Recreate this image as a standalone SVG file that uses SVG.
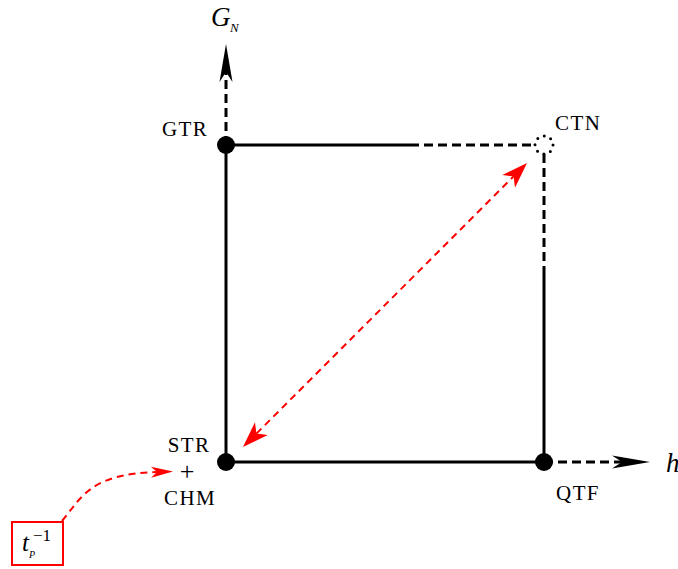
<svg xmlns="http://www.w3.org/2000/svg" width="678" height="569" viewBox="0 0 678 569">
<style>
.t{font-family:"Liberation Serif","DejaVu Serif",serif;fill:#000}
.lbl{font-size:21px;letter-spacing:1.4px}
.edge{stroke:#000;stroke-width:3;fill:none}
.dash{stroke:#000;stroke-width:3;fill:none;stroke-dasharray:9 5}
.rdash{stroke:#f00;stroke-width:2;fill:none;stroke-dasharray:7 5}
</style>
<defs>
<marker id="bk" markerUnits="userSpaceOnUse" viewBox="-12 -9 42 18" markerWidth="42" markerHeight="18" refX="0" refY="0" orient="auto" overflow="visible">
<path d="M28,0 L-10,-6.5 L0,0 L-10,6.5 Z" fill="#000"/>
</marker>
<marker id="rd" markerUnits="userSpaceOnUse" viewBox="-10 -10 32 20" markerWidth="32" markerHeight="20" refX="0" refY="0" orient="auto-start-reverse" overflow="visible">
<path d="M19,0 L-7,-9 L0,0 L-7,9 Z" fill="#f00"/>
</marker>
<marker id="rds" markerUnits="userSpaceOnUse" viewBox="-10 -8 28 16" markerWidth="28" markerHeight="16" refX="0" refY="0" orient="auto" overflow="visible">
<path d="M16,0 L-6,-5.5 L0,0 L-6,5.5 Z" fill="#f00"/>
</marker>
</defs>
<g id="connectors">
<path class="edge" d="M226,145 V462 H544 V268"/>
<path class="edge" d="M226,145 H410"/>
<path class="dash" d="M410,145 H535"/>
<path class="dash" d="M544,154 V268"/>
<path class="dash" d="M226,145 V72" marker-end="url(#bk)"/>
<path class="dash" d="M544,462 H622" marker-end="url(#bk)"/>
<path class="rdash" d="M256.4,433.6 L513.6,176.4" marker-end="url(#rd)" marker-start="url(#rd)"/>
<path class="rdash" d="M62,521 C82,497 90,474 157,472" marker-end="url(#rds)"/>
</g>
<g id="GTR">
<circle cx="226" cy="145" r="9" fill="#000"/>
<text class="t lbl" x="162" y="136">GTR</text>
</g>
<g id="CTN">
<circle cx="544" cy="145" r="9" fill="none" stroke="#000" stroke-width="3" stroke-linecap="round" stroke-dasharray="0 7.0686"/>
<text class="t lbl" x="555" y="130">CTN</text>
</g>
<g id="STR">
<circle cx="226" cy="462" r="9" fill="#000"/>
<text class="t lbl" x="189" y="452" text-anchor="middle">STR</text>
<text class="t" x="187" y="480" font-size="26" text-anchor="middle">+</text>
<text class="t lbl" x="190" y="505" text-anchor="middle">CHM</text>
</g>
<g id="QTF">
<circle cx="544" cy="462" r="9" fill="#000"/>
<text class="t lbl" x="578" y="500" text-anchor="middle">QTF</text>
</g>
<g id="GN">
<text class="t" x="211" y="26" font-size="27" font-style="italic">G</text>
<text class="t" x="230" y="32" font-size="13" font-style="italic">N</text>
</g>
<g id="h">
<text class="t" x="666" y="472" font-size="27" font-style="italic">h</text>
</g>
<g id="tP">
<rect x="12" y="522" width="51" height="43" fill="none" stroke="#f00" stroke-width="2"/>
<text class="t" x="22" y="551" font-size="25" font-style="italic">t</text>
<text class="t" x="33" y="541" font-size="17">−1</text>
<text class="t" x="29" y="558" font-size="10" font-style="italic">P</text>
</g>
</svg>
